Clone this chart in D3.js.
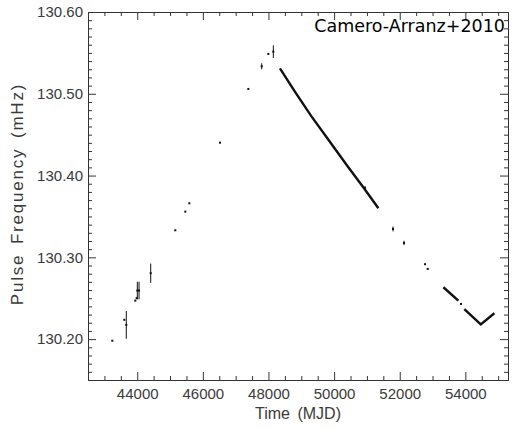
<!DOCTYPE html>
<meta charset="utf-8">
<style>
body { margin: 0; background: #fff; }
.tick text { font-family: "Liberation Sans", Arial, sans-serif; font-size: 15px; fill: #3a3a3a; }
.domain, .tick line { stroke: #333; }
.axis-title { font-family: "Liberation Sans", Arial, sans-serif; fill: #3a3a3a; }
.ref-label { font-family: "DejaVu Sans", sans-serif; font-size: 17.5px; fill: #000; }
</style>
<body>
<svg id="chart"></svg>
<script src="https://d3js.org/d3.v7.min.js"></script>
<script>

var width = 513,
    height = 429,
    margin = {top: 12, right: 5, bottom: 49, left: 88};

// isolated timings (MJD, pulse frequency in mHz)
var dotMjd  = [43241, 43606, 43942, 43984, 45161, 45466, 45588, 46523, 47386, 47995, 52772, 52854, 53869];
var dotFreq = [130.198, 130.2236, 130.2471, 130.2501, 130.3331, 130.3559, 130.3661, 130.4402, 130.5059, 130.5487, 130.2916, 130.2858, 130.2430];

// timings with error bars
var barMjd  = [43667, 44003, 44055, 44411, 47794, 48148, 50943, 51796, 52131];
var barFreq = [130.2174, 130.2594, 130.2594, 130.2806, 130.5336, 130.5515, 130.385, 130.3347, 130.3176];
var barErr  = [0.017, 0.0108, 0.0108, 0.0118, 0.0037, 0.0078, 0.002, 0.003, 0.0026];

// dense monitoring tracks (BATSE, then Swift/Fermi era)
var batseMjd  = [48350, 48800, 49300, 49860, 50400, 50900, 51350];
var batseFreq = [130.531, 130.503, 130.473, 130.442, 130.412, 130.385, 130.360];
var lateMjd   = [53330, 53787];
var lateFreq  = [130.2634, 130.2471];
var late2Mjd  = [53969, 54470, 54884];
var late2Freq = [130.2366, 130.218, 130.2316];

var xMajor = [44000, 46000, 48000, 50000, 52000, 54000];
var yMajor = [130.20, 130.30, 130.40, 130.50, 130.60];

var x = d3.scaleLinear()
    .domain([42500, 55300])
    .range([margin.left, width - margin.right]);

var y = d3.scaleLinear()
    .domain([130.15, 130.60])
    .range([height - margin.bottom, margin.top]);

var svg = d3.select("#chart")
    .attr("width", width)
    .attr("height", height);

var xMinor = d3.range(43000, 55300, 500).filter(function(d) { return d % 2000 !== 0; });
var yMinor = d3.range(0, 46).map(function(i) { return +(130.15 + i * 0.01).toFixed(2); })
    .filter(function(d) { return yMajor.indexOf(d) < 0; });

function tidy(g) {
  g.select(".domain").attr("stroke", "#333");
  g.selectAll(".tick line").attr("stroke", "#333");
}

// bottom
svg.append("g")
    .attr("transform", "translate(0," + (height - margin.bottom) + ")")
    .call(d3.axisBottom(x).tickValues(xMajor).tickSize(-8).tickPadding(8).tickFormat(d3.format("d")).tickSizeOuter(0))
    .call(tidy);
svg.append("g")
    .attr("transform", "translate(0," + (height - margin.bottom) + ")")
    .call(d3.axisBottom(x).tickValues(xMinor).tickSize(-4).tickFormat("").tickSizeOuter(0))
    .call(tidy);
// top
svg.append("g")
    .attr("transform", "translate(0," + margin.top + ")")
    .call(d3.axisTop(x).tickValues(xMajor).tickSize(-8).tickFormat("").tickSizeOuter(0))
    .call(tidy);
svg.append("g")
    .attr("transform", "translate(0," + margin.top + ")")
    .call(d3.axisTop(x).tickValues(xMinor).tickSize(-4).tickFormat("").tickSizeOuter(0))
    .call(tidy);
// left
svg.append("g")
    .attr("transform", "translate(" + margin.left + ",0)")
    .call(d3.axisLeft(y).tickValues(yMajor).tickSize(-8).tickPadding(5).tickFormat(d3.format(".2f")).tickSizeOuter(0))
    .call(tidy);
svg.append("g")
    .attr("transform", "translate(" + margin.left + ",0)")
    .call(d3.axisLeft(y).tickValues(yMinor).tickSize(-4).tickFormat("").tickSizeOuter(0))
    .call(tidy);
// right
svg.append("g")
    .attr("transform", "translate(" + (width - margin.right) + ",0)")
    .call(d3.axisRight(y).tickValues(yMajor).tickSize(-8).tickFormat("").tickSizeOuter(0))
    .call(tidy);
svg.append("g")
    .attr("transform", "translate(" + (width - margin.right) + ",0)")
    .call(d3.axisRight(y).tickValues(yMinor).tickSize(-4).tickFormat("").tickSizeOuter(0))
    .call(tidy);

// error bars
svg.append("g").selectAll("line")
  .data(barMjd)
  .enter().append("line")
    .attr("x1", function(d) { return x(d); })
    .attr("x2", function(d) { return x(d); })
    .attr("y1", function(d, i) { return y(barFreq[i] - barErr[i]); })
    .attr("y2", function(d, i) { return y(barFreq[i] + barErr[i]); })
    .attr("stroke", "#111")
    .attr("stroke-width", 1);

svg.append("g").selectAll("rect")
  .data(barMjd.concat(dotMjd))
  .enter().append("rect")
    .attr("x", function(d) { return x(d) - 1; })
    .attr("y", function(d, i) {
      var f = i < barMjd.length ? barFreq[i] : dotFreq[i - barMjd.length];
      return y(f) - 1;
    })
    .attr("width", 2)
    .attr("height", 2)
    .attr("fill", "#111");

var line = d3.line()
    .x(function(d) { return x(d[0]); })
    .y(function(d) { return y(d[1]); });

[[batseMjd, batseFreq], [lateMjd, lateFreq], [late2Mjd, late2Freq]].forEach(function(s) {
  svg.append("path")
      .datum(s[0].map(function(m, i) { return [m, s[1][i]]; }))
      .attr("fill", "none")
      .attr("stroke", "#111")
      .attr("stroke-width", 2.4)
      .attr("d", line);
});

// titles
svg.append("text")
    .attr("class", "axis-title")
    .attr("x", 298)
    .attr("y", 419)
    .attr("text-anchor", "middle")
    .style("font-size", "16px")
    .style("word-spacing", "3px")
    .text("Time (MJD)");

svg.append("text")
    .attr("class", "axis-title")
    .attr("transform", "translate(23," + 194 + ")rotate(-90)")
    .attr("text-anchor", "middle")
    .style("font-size", "17px")
    .style("letter-spacing", "1.8px")
    .style("word-spacing", "3px")
    .text("Pulse Frequency (mHz)");

svg.append("text")
    .attr("class", "ref-label")
    .attr("x", 505)
    .attr("y", 32)
    .attr("text-anchor", "end")
    .text("Camero-Arranz+2010");

</script>
